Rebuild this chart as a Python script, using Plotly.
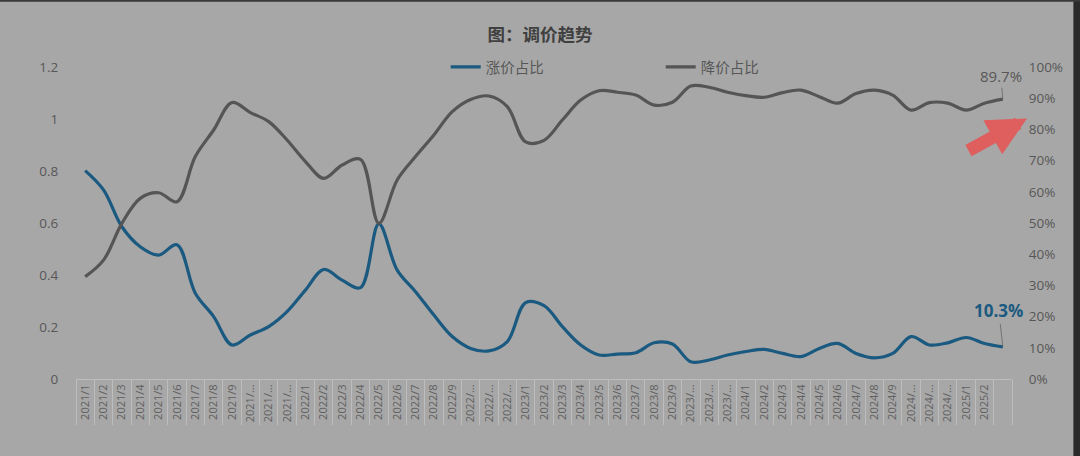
import plotly.graph_objects as go

# ---------------- data ----------------
categories = [f"{y}/{m}" for y in (2021, 2022, 2023, 2024) for m in range(1, 13)] + ["2025/1", "2025/2", "2025/3"]
tick_labels = []
for c in categories:
    y, m = c.split("/")
    if c == "2025/3":
        tick_labels.append("")
    elif int(m) >= 10:
        tick_labels.append(f"{y}/...")
    else:
        tick_labels.append(c)

rise_pct = [66.8, 60.6, 48.8, 42.4, 39.7, 43.0, 27.5, 20.0, 10.9, 14.1,
            16.8, 21.6, 28.5, 35.1, 31.7, 29.3, 49.7, 34.9, 28.0, 20.5,
            13.6, 9.8, 9.0, 12.0, 24.5, 23.5, 16.8, 10.9, 7.7, 8.0,
            8.4, 11.6, 11.2, 5.5, 6.1, 7.7, 8.8, 9.5, 8.2, 7.2,
            9.8, 11.4, 8.2, 6.8, 8.2, 13.6, 10.9, 11.6, 13.3, 11.4,
            10.3]
fall_pct = [32.8, 38.1, 49.9, 57.9, 59.7, 56.8, 71.3, 79.8, 88.6, 85.4,
            82.5, 76.6, 69.7, 64.3, 68.6, 70.4, 49.9, 63.8, 71.3, 78.2,
            85.7, 89.6, 90.7, 87.3, 76.0, 76.5, 83.0, 89.4, 92.4, 91.9,
            91.0, 87.8, 88.7, 93.9, 93.5, 91.9, 90.8, 90.3, 91.8, 92.6,
            90.5, 88.4, 91.5, 92.6, 91.0, 86.2, 88.6, 88.4, 86.2, 88.4,
            89.7]
left_ticks = [0, 0.2, 0.4, 0.6, 0.8, 1.0, 1.2]
left_tick_text = ["0", "0.2", "0.4", "0.6", "0.8", "1", "1.2"]
right_ticks = [0, 10, 20, 30, 40, 50, 60, 70, 80, 90, 100]

BLUE = "#1b5a80"
GRAY = "#555555"
TXT = "#575757"
FONT = "Noto Sans CJK SC, Noto Sans, sans-serif"
LATIN = "Open Sans, sans-serif"

fig = go.Figure()
# empty helper traces so that the left value axis and the boundary-tick axis are drawn
fig.add_trace(go.Scatter(x=[], y=[], xaxis="x", yaxis="y", showlegend=False, hoverinfo="skip"))
fig.add_trace(go.Scatter(x=[], y=[], xaxis="x2", yaxis="y", showlegend=False, hoverinfo="skip"))

fig.add_trace(go.Scatter(x=categories, y=rise_pct, name="涨价占比", mode="lines",
                         line=dict(color=BLUE, width=3.2, shape="spline", smoothing=1.0),
                         yaxis="y2"))
fig.add_trace(go.Scatter(x=categories, y=fall_pct, name="降价占比", mode="lines",
                         line=dict(color=GRAY, width=3.2, shape="spline", smoothing=1.0),
                         yaxis="y2"))

# value labels
fig.add_annotation(x=categories[-1], y=rise_pct[-1], xref="x", yref="y2",
                   text=f"<b>{rise_pct[-1]:.1f}%</b>", showarrow=True, arrowhead=0,
                   arrowwidth=0.8, arrowcolor="#666666", ax=-4, ay=-36,
                   font=dict(size=17, color=BLUE, family=LATIN))
fig.add_annotation(x=categories[-1], y=fall_pct[-1], xref="x", yref="y2",
                   text=f"{fall_pct[-1]:.1f}%", showarrow=True, arrowhead=0,
                   arrowwidth=0.8, arrowcolor="#666666", ax=-2, ay=-23,
                   font=dict(size=15, color=TXT, family=LATIN))
# red arrow pointing at the 80% tick
fig.add_annotation(x=1.016, y=0.835, xref="paper", yref="paper", text="",
                   showarrow=True, arrowhead=2, arrowsize=0.6, arrowwidth=13,
                   arrowcolor="rgba(228,88,88,0.92)", ax=-60, ay=33)

# dark border strips (right and top edges of the picture)
fig.add_shape(type="rect", xref="paper", yref="paper", x0=1.0656, x1=1.2, y0=-0.3, y1=1.3,
              fillcolor="#2a2a2a", line=dict(width=0), layer="above")
fig.add_shape(type="rect", xref="paper", yref="paper", x0=-0.2, x1=1.2, y0=1.209, y1=1.3,
              fillcolor="#3a3a3a", line=dict(width=0), layer="above")

fig.update_layout(
    width=1080, height=456,
    paper_bgcolor="#a7a7a7", plot_bgcolor="rgba(0,0,0,0)",
    margin=dict(l=76, r=68, t=67, b=77),
    font=dict(family=FONT, color=TXT),
    title=dict(text="<b>图：调价趋势</b>", x=0.5, xanchor="center", y=0.923, yanchor="middle",
               font=dict(size=17.5, color="#404040", family=FONT)),
    showlegend=True,
    legend=dict(orientation="h", x=0.395, xanchor="left", y=1.0, yanchor="middle",
                bgcolor="rgba(0,0,0,0)", font=dict(size=14.5, color=TXT, family=FONT),
                entrywidth=170, entrywidthmode="pixels", itemwidth=30),
    xaxis=dict(type="category", categoryorder="array", categoryarray=categories,
               tickmode="array", tickvals=categories, ticktext=tick_labels,
               tickangle=-90, tickfont=dict(size=11, color="#606060", family=LATIN),
               ticks="", showgrid=False, showline=True, linecolor="#bdbdbd", linewidth=1,
               range=[-0.5, len(categories) - 0.5]),
    xaxis2=dict(type="linear", overlaying="x", anchor="y", side="bottom",
                range=[-0.5, len(categories) - 0.5],
                tickmode="array", tickvals=[i - 0.5 for i in range(len(categories) + 1)],
                showticklabels=False, ticks="outside", ticklen=45, tickwidth=1,
                tickcolor="#bdbdbd", showgrid=False, showline=False, zeroline=False),
    yaxis=dict(range=[0, 1.2], tickmode="array", tickvals=left_ticks, ticktext=left_tick_text,
               showgrid=False, zeroline=False, showline=False,
               ticks="outside", ticklen=14, tickcolor="rgba(0,0,0,0)",
               tickfont=dict(size=13.5, color=TXT, family=LATIN)),
    yaxis2=dict(range=[0, 100], overlaying="y", side="right", anchor="x", tickmode="array",
                tickvals=right_ticks, ticktext=[f"{v}%" for v in right_ticks],
                showgrid=False, zeroline=False, showline=False,
                ticks="outside", ticklen=13, tickcolor="rgba(0,0,0,0)",
                tickfont=dict(size=13.5, color=TXT, family=LATIN)),
)

fig.write_html("out.html", config={"displayModeBar": False},
               post_script="document.body.style.margin='0';document.body.style.background='#a7a7a7';")
